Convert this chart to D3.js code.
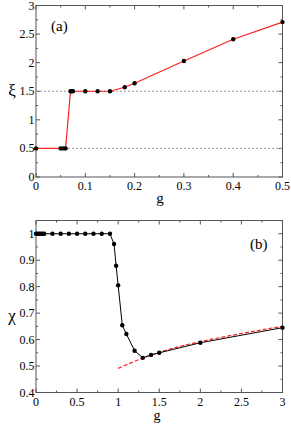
<!DOCTYPE html>
<html>
<head>
<meta charset="utf-8">
<script src="https://cdn.jsdelivr.net/npm/d3@7"></script>
<style>
body { margin: 0; background: #fff; }
svg text { font-family: "Liberation Serif", serif; }
</style>
</head>
<body>
<div id="chart"></div>
<script>
const width = 291;
const height = 424;

// panel (a)
const gA = [0, 0.05, 0.055, 0.06, 0.07, 0.072, 0.075, 0.1, 0.125, 0.15, 0.18, 0.2, 0.3, 0.4, 0.5];
const xiA = [0.5, 0.5, 0.5, 0.5, 1.5, 1.5, 1.5, 1.5, 1.5, 1.5, 1.57, 1.64, 2.03, 2.41, 2.71];
const refLinesA = [0.5, 1.5];

// panel (b)
const gB = [0, 0.02, 0.04, 0.06, 0.08, 0.1, 0.2, 0.3, 0.4, 0.5, 0.6, 0.7, 0.8, 0.9, 0.95, 0.975, 1.0, 1.05, 1.1, 1.2, 1.3, 1.4, 1.5, 2, 3];
const chiB = [1, 1, 1, 1, 1, 1, 1, 1, 1, 1, 1, 1, 1, 1, 0.961, 0.879, 0.805, 0.654, 0.621, 0.558, 0.531, 0.542, 0.55, 0.588, 0.645];
const gFit = [1, 1.25, 1.5, 1.75, 2, 2.5, 3];
const chiFit = [0.491, 0.524, 0.552, 0.574, 0.592, 0.623, 0.65];

const svg = d3.select("#chart").append("svg")
    .attr("width", width)
    .attr("height", height);

const frame = "#555";

function panel(opt) {
    const x = d3.scaleLinear().domain(opt.xDomain).range([36, 282.5]);
    const y = d3.scaleLinear().domain(opt.yDomain).range([opt.bottom, opt.top]);
    const g = svg.append("g");

    // ticks (inward, all four sides)
    const tickLen = 4, minorLen = 2;
    const drawTicks = (vals, len, axis) => {
        vals.forEach(v => {
            if (axis === "x") {
                g.append("line").attr("x1", x(v)).attr("x2", x(v)).attr("y1", opt.bottom).attr("y2", opt.bottom - len).attr("stroke", frame);
                g.append("line").attr("x1", x(v)).attr("x2", x(v)).attr("y1", opt.top).attr("y2", opt.top + len).attr("stroke", frame);
            } else {
                g.append("line").attr("y1", y(v)).attr("y2", y(v)).attr("x1", 36).attr("x2", 36 + len).attr("stroke", frame);
                g.append("line").attr("y1", y(v)).attr("y2", y(v)).attr("x1", 282.5).attr("x2", 282.5 - len).attr("stroke", frame);
            }
        });
    };
    drawTicks(opt.xMajor, tickLen, "x");
    drawTicks(opt.xMinor, minorLen, "x");
    drawTicks(opt.yMajor, tickLen, "y");
    drawTicks(opt.yMinor, minorLen, "y");

    g.append("rect")
        .attr("x", 36).attr("y", opt.top)
        .attr("width", 282.5 - 36).attr("height", opt.bottom - opt.top)
        .attr("fill", "none").attr("stroke", frame).attr("stroke-width", 1);

    g.selectAll(".xl").data(opt.xMajor).join("text")
        .attr("x", d => x(d)).attr("y", opt.bottom + 13)
        .attr("text-anchor", "middle").attr("font-size", 12)
        .text(opt.fmt);
    g.selectAll(".yl").data(opt.yMajor).join("text")
        .attr("x", 34.5).attr("y", d => y(d) + 4)
        .attr("text-anchor", "end").attr("font-size", 12)
        .text(opt.fmt);

    return { g, x, y };
}

const fmt = d => String(+d.toFixed(1));

// ---- panel (a)
const a = panel({
    xDomain: [0, 0.5], yDomain: [0, 3], top: 5.5, bottom: 177,
    xMajor: d3.range(0, 0.51, 0.1), xMinor: d3.range(0.05, 0.5, 0.1),
    yMajor: d3.range(0, 3.01, 0.5), yMinor: d3.range(0.25, 3, 0.5),
    fmt
});
a.g.selectAll(".ref").data(refLinesA).join("line")
    .attr("x1", 36).attr("x2", 282.5)
    .attr("y1", d => a.y(d)).attr("y2", d => a.y(d))
    .attr("stroke", "#999").attr("stroke-dasharray", "2,2");
a.g.append("path")
    .datum(gA.map((v, i) => [v, xiA[i]]))
    .attr("d", d3.line().x(d => a.x(d[0])).y(d => a.y(d[1])))
    .attr("fill", "none").attr("stroke", "#ff2020").attr("stroke-width", 1.2);
a.g.selectAll(".pt").data(gA.map((v, i) => [v, xiA[i]])).join("circle")
    .attr("cx", d => a.x(d[0])).attr("cy", d => a.y(d[1])).attr("r", 2.2).attr("fill", "#000");
a.g.append("text").attr("x", 51).attr("y", 31).attr("font-size", 15).text("(a)");
a.g.append("text").attr("x", 160).attr("y", 203).attr("text-anchor", "middle").attr("font-size", 15).text("g");
a.g.append("text").attr("x", 12).attr("y", 96).attr("text-anchor", "middle").attr("font-size", 17).text("ξ");

// ---- panel (b)
const b = panel({
    xDomain: [0, 3], yDomain: [0.4, 1.05], top: 220.5, bottom: 392.5,
    xMajor: d3.range(0, 3.01, 0.5), xMinor: d3.range(0.25, 3, 0.5),
    yMajor: d3.range(0.4, 1.001, 0.1), yMinor: d3.range(0.45, 1.05, 0.1),
    fmt
});
b.g.append("path")
    .datum(gFit.map((v, i) => [v, chiFit[i]]))
    .attr("d", d3.line().curve(d3.curveMonotoneX).x(d => b.x(d[0])).y(d => b.y(d[1])))
    .attr("fill", "none").attr("stroke", "#ff2020").attr("stroke-width", 1.2).attr("stroke-dasharray", "4,2");
b.g.append("path")
    .datum(gB.map((v, i) => [v, chiB[i]]))
    .attr("d", d3.line().x(d => b.x(d[0])).y(d => b.y(d[1])))
    .attr("fill", "none").attr("stroke", "#000").attr("stroke-width", 1);
b.g.selectAll(".pt").data(gB.map((v, i) => [v, chiB[i]])).join("circle")
    .attr("cx", d => b.x(d[0])).attr("cy", d => b.y(d[1])).attr("r", 2.2).attr("fill", "#000");
b.g.append("text").attr("x", 250).attr("y", 249).attr("font-size", 15).text("(b)");
b.g.append("text").attr("x", 157).attr("y", 420).attr("text-anchor", "middle").attr("font-size", 14).text("g");
b.g.append("text").attr("x", 12).attr("y", 321).attr("text-anchor", "middle").attr("font-size", 17).text("χ");
</script>
</body>
</html>
